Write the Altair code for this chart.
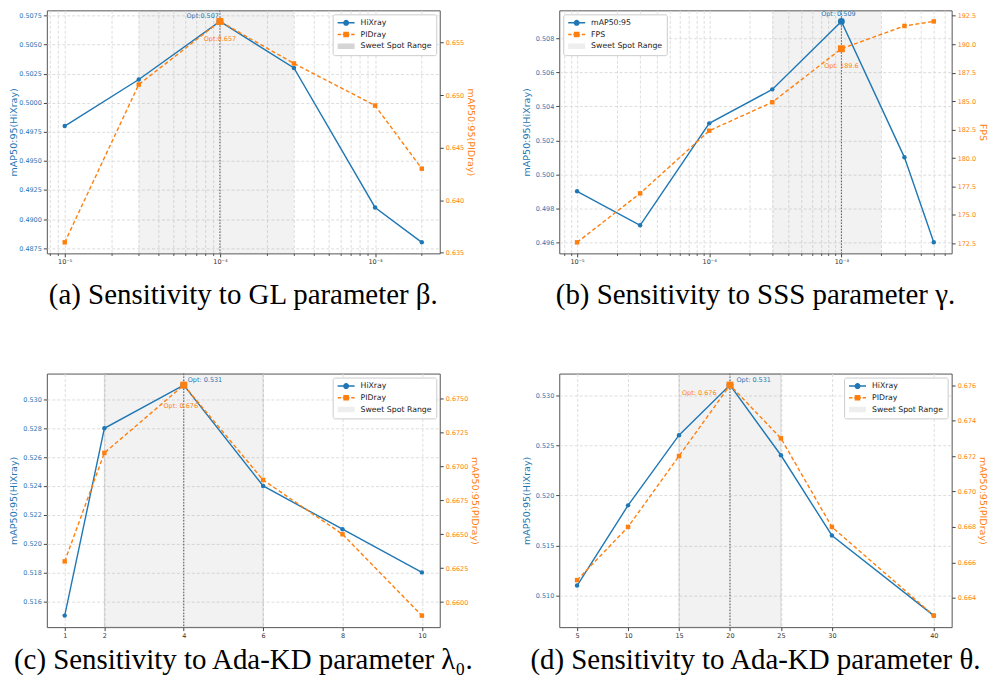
import math
import altair as alt
import pandas as pd

BLUE = "#1f77b4"
ORANGE = "#ff7f0e"
FONT = "DejaVu Sans"
SERIF = "Liberation Serif"

# ---------------- data ----------------
# (a) GL parameter beta
a_x = [1e-5, 3e-5, 1e-4, 3e-4, 1e-3, 2e-3]
a_hix = [0.498, 0.502, 0.507, 0.503, 0.491, 0.488]
a_pid = [0.636, 0.651, 0.657, 0.653, 0.649, 0.643]
a_sweet = [3e-5, 3e-4]
a_opt = 1e-4
a_left_ticks = [0.4875, 0.4900, 0.4925, 0.4950, 0.4975, 0.5000, 0.5025, 0.5050, 0.5075]
a_right_ticks = [0.635, 0.640, 0.645, 0.650, 0.655]

# (b) SSS parameter gamma
b_x = [1e-5, 3e-5, 1e-4, 3e-4, 1e-3, 3e-3, 5e-3]
b_map = [0.499, 0.497, 0.503, 0.505, 0.509, 0.501, 0.496]
b_fps = [172.6, 176.9, 182.4, 184.9, 189.6, 191.6, 192.0]
b_sweet = [3e-4, 2e-3]
b_opt = 1e-3
b_left_ticks = [0.496, 0.498, 0.500, 0.502, 0.504, 0.506, 0.508]
b_right_ticks = [172.5, 175.0, 177.5, 180.0, 182.5, 185.0, 187.5, 190.0, 192.5]

# (c) Ada-KD parameter lambda0
c_x = [1, 2, 4, 6, 8, 10]
c_hix = [0.515, 0.528, 0.531, 0.524, 0.521, 0.518]
c_pid = [0.663, 0.671, 0.676, 0.669, 0.665, 0.659]
c_sweet = [2, 6]
c_opt = 4
c_left_ticks = [0.516, 0.518, 0.520, 0.522, 0.524, 0.526, 0.528, 0.530]
c_right_ticks = [0.6600, 0.6625, 0.6650, 0.6675, 0.6700, 0.6725, 0.6750]

# (d) Ada-KD parameter theta
d_x = [5, 10, 15, 20, 25, 30, 40]
d_hix = [0.511, 0.519, 0.526, 0.531, 0.524, 0.516, 0.508]
d_pid = [0.665, 0.668, 0.672, 0.676, 0.673, 0.668, 0.663]
d_sweet = [15, 25]
d_opt = 20
d_left_ticks = [0.510, 0.515, 0.520, 0.525, 0.530]
d_right_ticks = [0.664, 0.666, 0.668, 0.670, 0.672, 0.674, 0.676]

log_major = [1e-5, 1e-4, 1e-3]
log_major_labels = ["10⁻⁵", "10⁻⁴", "10⁻³"]

captions = [
    "(a) Sensitivity to GL parameter β.",
    "(b) Sensitivity to SSS parameter γ.",
    "(c) Sensitivity to Ada-KD parameter λ₀.",
    "(d) Sensitivity to Ada-KD parameter θ.",
]

# ---------------- helpers ----------------
L = "(log(datum.value)/LN10)"
MAJOR = f"abs({L} - round({L})) < 0.01"
lab = "''"
for v, s in zip(log_major, log_major_labels):
    e = round(math.log10(v))
    lab = f"round({L}) == {e} ? '{s}' : ({lab})"
LOG_LABEL = f"{MAJOR} ? ({lab}) : ''"

P_CIRC = "M-1,0H1M0.27,0A0.27,0.27,0,1,1,-0.27,0A0.27,0.27,0,1,1,0.27,0Z"
P_SQ = "M-1,0H-0.6M-0.4,0H0.4M0.6,0H1M-0.25,-0.25H0.25V0.25H-0.25Z"
P_RECT = "M-1,-0.33H1V0.33H-1Z"
SWEET = "Sweet Spot Range"


def log_ticks(lo, hi):
    out = []
    for e in range(-7, 0):
        for m in range(1, 10):
            v = m * 10.0 ** e
            if lo <= v <= hi:
                out.append(v)
    return out


def make_legend(n1, n2, orient):
    sel = lambda a, b, c: f"datum.value === '{n1}' ? {a} : datum.value === '{n2}' ? {b} : {c}"
    return alt.Legend(
        title=None, orient=orient, offset=4, padding=4, fillColor="white",
        strokeColor="#cccccc", cornerRadius=2, labelFontSize=7.8, labelColor="#222222",
        labelFont=FONT, symbolSize=289, labelOffset=5, rowPadding=2.8, clipHeight=9,
        symbolType={"expr": sel(f"'{P_CIRC}'", f"'{P_SQ}'", f"'{P_RECT}'")},
        symbolStrokeColor={"expr": sel(f"'{BLUE}'", f"'{ORANGE}'", "'transparent'")},
        symbolStrokeWidth=1.4,
        symbolOpacity=1,
    )


def panel(p):
    xs = p["xscale"]
    rect_kw = p.get("rect_kw", {})
    rect = alt.Chart(pd.DataFrame({"x1": [p["sweet"][0]], "x2": [p["sweet"][1]]})).mark_rect(
        fill="#808080", fillOpacity=0.1, **rect_kw
    ).encode(x=alt.X("x1:Q", scale=xs, axis=p["xaxis"], title=None), x2="x2:Q")
    rule = alt.Chart(pd.DataFrame({"x": [p["opt"]]})).mark_rule(
        color="#555555", strokeDash=[1.5, 1.5], strokeWidth=1
    ).encode(x=alt.X("x:Q", title=None))

    n1, n2 = p["names"]
    color = alt.Color(
        "s:N",
        scale=alt.Scale(domain=[n1, n2, SWEET], range=[BLUE, ORANGE, p["patch"]]),
        legend=make_legend(n1, n2, p["legend_orient"]),
    )

    groups = []
    for k, (vals, col, shape, orient) in enumerate([
        (p["y1"], BLUE, "circle", "left"),
        (p["y2"], ORANGE, "square", "right"),
    ]):
        ticks = p["lticks"] if k == 0 else p["rticks"]
        fmt = p["lfmt"] if k == 0 else p["rfmt"]
        dom = p["ldom"] if k == 0 else p["rdom"]
        title = p["ltitle"] if k == 0 else p["rtitle"]
        ax_kw = dict(
            orient=orient, values=ticks, format=fmt, labelColor=col, titleColor=col,
            labelFontSize=6.5, titleFontSize=9.6, titleFontWeight="normal",
            tickColor="#444444", tickSize=3.5, labelPadding=2, domain=False,
            titlePadding=2, labelFont=FONT, titleFont=FONT, labelOverlap=False, tickCount=100,
        )
        if k == 0:
            ax_kw.update(grid=True, gridColor="#dddddd", gridDash=[3, 2], minExtent=26, maxExtent=26)
        else:
            ax_kw.update(grid=False)
        name = p["names"][k]
        df = pd.DataFrame({"x": p["x"], "v": vals, "s": name})
        axis = alt.Axis(**ax_kw)
        yenc = alt.Y("v:Q", scale=alt.Scale(domain=dom, nice=False, zero=False), axis=axis, title=title)
        line_kw = dict(strokeWidth=1.4, color=col,
                       point=alt.OverlayMarkDef(filled=True, size=20, shape=shape, opacity=1, color=col))
        if k == 1:
            line_kw["strokeDash"] = [4, 2.5]
        line = alt.Chart(df).mark_line(**line_kw).encode(x=alt.X("x:Q", title=None), y=yenc)
        optv = vals[p["x"].index(p["opt"])]
        od = pd.DataFrame({"x": [p["opt"]], "v": [optv], "s": [name], "label": [p["optlabels"][k]]})
        big = alt.Chart(od).mark_point(filled=True, size=48, shape=shape, opacity=1).encode(
            x=alt.X("x:Q", title=None), y=alt.Y("v:Q", axis=axis, title=title), color=color)
        tk = p["textpos"][k]
        txt = alt.Chart(od).mark_text(font=FONT, fontSize=6.5, color=col, align=tk[0],
                                      baseline="middle", dx=tk[1], dy=tk[2]).encode(
            x=alt.X("x:Q", title=None), y=alt.Y("v:Q", axis=axis, title=title), text="label:N")
        groups.append(alt.layer(line, big, txt))

    return alt.layer(rect, rule, groups[0], groups[1]).resolve_scale(y="independent").properties(
        width=p["w"], height=p["h"],
        title=alt.TitleParams(p["caption"], orient="bottom", font=SERIF, fontSize=29,
                              fontWeight="normal", color="black", offset=p["capoff"],
                              frame="group", anchor="middle"),
    )


def log_axis(lo, hi):
    return alt.Axis(
        values=log_ticks(lo, hi), labelExpr=LOG_LABEL, labelOverlap=False, tickCount=100,
        tickSize={"condition": {"test": MAJOR, "value": 3.5}, "value": 2},
        tickColor="#444444", labelColor="#333333", labelFontSize=6.5, labelPadding=2,
        grid=True, gridColor="#dddddd", gridDash=[3, 2], domain=False, labelFont=FONT,
    )


def lin_axis(vals):
    return alt.Axis(
        values=vals, format="d", tickSize=3.5, tickColor="#444444", labelColor="#333333",
        labelFontSize=6.5, labelPadding=2, grid=True, gridColor="#dddddd", gridDash=[3, 2],
        domain=False, labelFont=FONT, labelOverlap=False, tickCount=100,
    )


W1, W2 = 394.5, 394
H1, H2 = 244, 254.6

pa = panel(dict(
    x=a_x, y1=a_hix, y2=a_pid, names=["HiXray", "PIDray"], patch="#d5d5d5", sweet=a_sweet, opt=a_opt,
    xscale=alt.Scale(type="log", domain=[7.67e-6, 2.61e-3], nice=False), xaxis=log_axis(7.67e-6, 2.61e-3),
    ldom=[0.48705, 0.50795], rdom=[0.63495, 0.65805], lticks=a_left_ticks, rticks=a_right_ticks,
    lfmt=".4f", rfmt=".3f", ltitle="mAP50:95(HiXray)", rtitle="mAP50:95(PIDray)",
    optlabels=["Opt:0.507", "Opt:0.657"], textpos=[("right", -1, -5), ("center", 0, 17.5)],
    legend_orient="top-right", w=W1, h=H1, caption=captions[0], capoff=16,
))
pb = panel(dict(
    x=b_x, y1=b_map, y2=b_fps, names=["mAP50:95", "FPS"], patch="#eeeeee", sweet=b_sweet, opt=b_opt,
    xscale=alt.Scale(type="log", domain=[7.33e-6, 6.83e-3], nice=False), xaxis=log_axis(7.33e-6, 6.83e-3),
    ldom=[0.49535, 0.50965], rdom=[171.63, 192.97], lticks=b_left_ticks, rticks=b_right_ticks,
    lfmt=".3f", rfmt=".1f", ltitle="mAP50:95(HiXray)", rtitle="FPS",
    optlabels=["Opt: 0.509", "Opt: 189.6"], textpos=[("center", -3, -7), ("center", 0, 17)],
    legend_orient="top-left", w=W2, h=H1, caption=captions[1], capoff=16,
))
pc = panel(dict(
    x=c_x, y1=c_hix, y2=c_pid, names=["HiXray", "PIDray"], patch="#eeeeee", sweet=c_sweet, opt=c_opt,
    xscale=alt.Scale(domain=[0.55, 10.45], nice=False, zero=False), xaxis=lin_axis(c_x),
    ldom=[0.5142, 0.5318], rdom=[0.65815, 0.67685], lticks=c_left_ticks, rticks=c_right_ticks,
    lfmt=".3f", rfmt=".4f", ltitle="mAP50:95(HiXray)", rtitle="mAP50:95(PIDray)",
    optlabels=["Opt: 0.531", "Opt: 0.676"], textpos=[("left", 4, -5), ("center", -3, 21)],
    legend_orient="top-right", w=W1, h=H2, caption=captions[2], capoff=7,
    rect_kw=dict(stroke="#999999", strokeOpacity=0.35, strokeWidth=1),
))
pd_ = panel(dict(
    x=d_x, y1=d_hix, y2=d_pid, names=["HiXray", "PIDray"], patch="#eeeeee", sweet=d_sweet, opt=d_opt,
    xscale=alt.Scale(domain=[3.25, 41.75], nice=False, zero=False), xaxis=lin_axis(d_x),
    ldom=[0.50685, 0.53215], rdom=[0.66235, 0.67665], lticks=d_left_ticks, rticks=d_right_ticks,
    lfmt=".3f", rfmt=".3f", ltitle="mAP50:95(HiXray)", rtitle="mAP50:95(PIDray)",
    optlabels=["Opt: 0.531", "Opt: 0.676"], textpos=[("left", 6.5, -5), ("right", -13.5, 8)],
    legend_orient="top-right", w=W2, h=H2, caption=captions[3], capoff=7,
    rect_kw=dict(stroke="#999999", strokeOpacity=0.35, strokeWidth=1),
))

chart = alt.concat(
    pa, pb, pc, pd_, columns=2, spacing={"row": 120.7, "column": 119.5}, bounds="flush"
).resolve_scale(color="independent").resolve_legend(color="independent").properties(
    padding={"left": 0, "top": 0, "right": 0, "bottom": 0}
).configure_view(stroke="#555555", strokeWidth=1).configure_axis(
    labelFont=FONT, titleFont=FONT
)

chart.save("out.html", embed_options={"renderer": "svg", "actions": False})
